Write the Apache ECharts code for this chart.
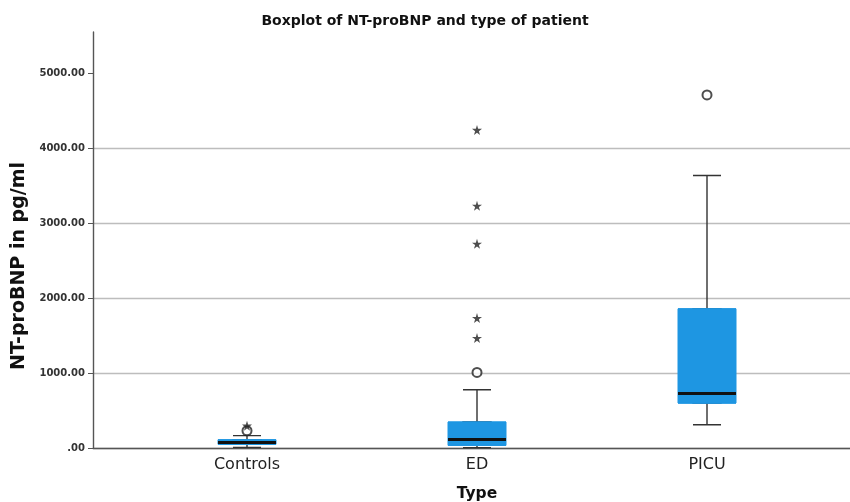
<!DOCTYPE html>
<html>
<head>
<meta charset="utf-8">
<title>Boxplot of NT-proBNP and type of patient</title>
<script src="https://cdn.jsdelivr.net/npm/echarts@6/dist/echarts.min.js"></script>
<style>
  html, body { margin: 0; padding: 0; background: #fff; }
  #boxplotChart { width: 850px; height: 502px; }
</style>
</head>
<body>
<div id="boxplotChart"></div>
<script>
// patient groups
const categories = ['Controls', 'ED', 'PICU'];
// five-number summary per group (pg/ml)
const whiskerLow = [8, 5, 311];
const q1 = [50, 35, 600];
const median = [75, 115, 728];
const q3 = [110, 347, 1857];
const whiskerHigh = [165, 777, 3635];
// outliers (circles) and extremes (stars): group index + value
const outlierGroup = [0, 1, 2];
const outlierValue = [230, 1008, 4711];
const extremeGroup = [0, 1, 1, 1, 1, 1];
const extremeValue = [297, 1467, 1733, 2724, 3231, 4243];
// y axis ticks
const yTicks = [0, 1000, 2000, 3000, 4000, 5000];
const yMax = 5550;

const font = 'DejaVu Sans';
const starPath = 'path://M50,0 L61,35 L98,35 L68,57 L79,91 L50,70 L21,91 L32,57 L2,35 L39,35 Z';

const myChart = echarts.init(document.getElementById('boxplotChart'));

// hidden category axis, one per boxplot layer so layers don't get placed side by side
function layerAxis() {
  return {
    gridIndex: 1,
    type: 'category',
    data: categories,
    boundaryGap: true,
    show: false
  };
}

const chartOption = {
  animation: false,
  textStyle: { fontFamily: font },
  title: {
    text: 'Boxplot of NT-proBNP and type of patient',
    left: 'center',
    top: 9,
    textStyle: { fontFamily: font, fontSize: 14, fontWeight: 'bold', color: '#111' }
  },
  grid: [
    // outer frame: y axis, gridlines, x axis line
    { left: 93, right: 0, top: 32, bottom: 54, outerBoundsMode: 'none' },
    // inner band for the three groups
    { left: 132, right: 28, top: 32, bottom: 54, outerBoundsMode: 'none' }
  ],
  xAxis: [
    {
      gridIndex: 0,
      type: 'value',
      min: 0,
      max: 1,
      axisLine: { show: true, lineStyle: { color: '#555', width: 1.4 } },
      axisTick: { show: false },
      axisLabel: { show: false },
      splitLine: { show: false }
    },
    {
      gridIndex: 1,
      type: 'category',
      data: categories,
      boundaryGap: true,
      axisLine: { show: false },
      axisTick: { show: false },
      axisLabel: { fontFamily: font, fontSize: 16, color: '#222', margin: 9 },
      name: 'Type',
      nameLocation: 'middle',
      nameGap: 38,
      nameTextStyle: { fontFamily: font, fontSize: 15.5, fontWeight: 'bold', color: '#111' }
    },
    layerAxis(),
    layerAxis()
  ],
  yAxis: [
    {
      gridIndex: 0,
      type: 'value',
      min: 0,
      max: yMax,
      interval: 1000,
      name: 'NT-proBNP in pg/ml',
      nameLocation: 'middle',
      nameGap: 64,
      nameTextStyle: { fontFamily: font, fontSize: 19, fontWeight: 'bold', color: '#111', padding: [0, 52, 0, 0] },
      axisLine: { show: true, lineStyle: { color: '#555', width: 1.4 } },
      axisTick: { show: true, length: 5, customValues: yTicks, lineStyle: { color: '#555' } },
      axisLabel: {
        customValues: yTicks,
        margin: 8,
        fontFamily: font,
        fontSize: 10,
        fontWeight: 'bold',
        color: '#333',
        formatter: v => (v === 0 ? '.00' : v.toFixed(2))
      },
      splitLine: { show: true, showMaxLine: false, lineStyle: { color: '#bdbdbd', width: 1.3 } }
    },
    {
      gridIndex: 1,
      type: 'value',
      min: 0,
      max: yMax,
      show: false,
      splitLine: { show: false }
    }
  ],
  series: [
    {
      // whiskers with short caps
      name: 'whiskers',
      type: 'boxplot',
      xAxisIndex: 1,
      yAxisIndex: 1,
      boxWidth: [28, 28],
      z: 2,
      silent: true,
      itemStyle: { color: 'rgba(0,0,0,0)', borderColor: '#333', borderWidth: 1.4 },
      data: categories.map((c, i) => [whiskerLow[i], q1[i], median[i], q3[i], whiskerHigh[i]])
    },
    {
      // blue box Q1-Q3
      name: 'box',
      type: 'boxplot',
      xAxisIndex: 2,
      yAxisIndex: 1,
      boxWidth: [58, 58],
      z: 3,
      silent: true,
      itemStyle: { color: '#1e96e2', borderColor: '#1e96e2', borderWidth: 1 },
      data: categories.map((c, i) => [q1[i], q1[i], q1[i], q3[i], q3[i]])
    },
    {
      // median bar
      name: 'median',
      type: 'boxplot',
      xAxisIndex: 3,
      yAxisIndex: 1,
      boxWidth: [58, 58],
      z: 4,
      silent: true,
      itemStyle: { color: 'rgba(0,0,0,0)', borderColor: '#111', borderWidth: 3 },
      data: categories.map((c, i) => [median[i], median[i], median[i], median[i], median[i]])
    },
    {
      name: 'outliers',
      type: 'scatter',
      xAxisIndex: 1,
      yAxisIndex: 1,
      z: 5,
      silent: true,
      symbol: 'emptyCircle',
      symbolSize: 9,
      itemStyle: { color: '#222', borderWidth: 1.4 },
      data: outlierGroup.map((g, i) => [g, outlierValue[i]])
    },
    {
      name: 'extremes',
      type: 'scatter',
      xAxisIndex: 1,
      yAxisIndex: 1,
      z: 6,
      silent: true,
      symbol: starPath,
      symbolSize: 10,
      itemStyle: { color: '#222' },
      data: extremeGroup.map((g, i) => [g, extremeValue[i]])
    }
  ]
};
myChart.setOption(chartOption);
</script>
</body>
</html>
